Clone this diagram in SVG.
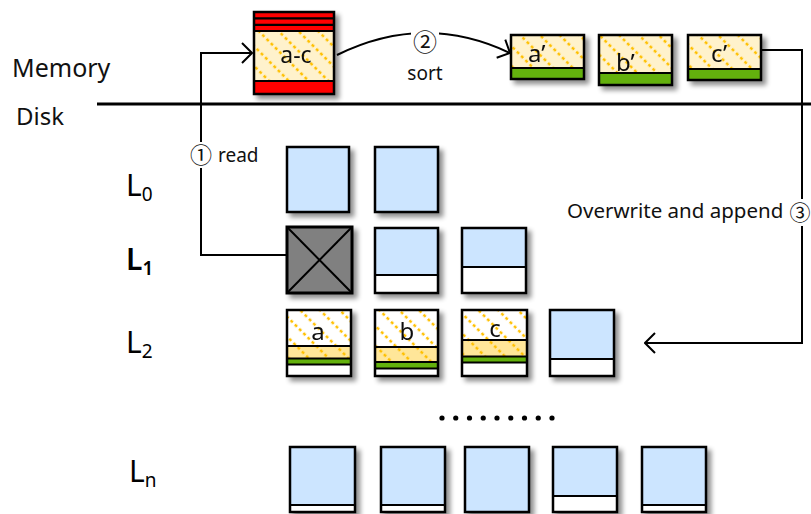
<svg xmlns="http://www.w3.org/2000/svg" width="811" height="514" viewBox="0 0 811 514">
  <defs>
    <style>
      .txt { font-family: "Noto Sans", "DejaVu Sans", sans-serif; fill: #111; }
      .num { font-family: "Noto Sans CJK JP", "DejaVu Sans", sans-serif; fill: #111; }
      .lvl { font-family: "Noto Sans", "DejaVu Sans", sans-serif; font-size: 30px; fill: #000; }
      .frame { fill: none; stroke: #000; stroke-width: 2.5; }
      .sep { stroke: #000; stroke-width: 2.2; }
      .blue { fill: #CCE5FF; }
      .white { fill: #FFFFFF; }
      .red { fill: #FF0000; }
      .green { fill: #64B10C; }
      .conn { fill: none; stroke: #000; stroke-width: 2; }
    </style>
    <filter id="shadow" x="-15%" y="-15%" width="140%" height="140%">
      <feGaussianBlur in="SourceAlpha" stdDeviation="2.5"/>
      <feOffset dx="4" dy="4" result="off"/>
      <feComponentTransfer result="soft">
        <feFuncA type="linear" slope="0.45"/>
      </feComponentTransfer>
      <feMerge>
        <feMergeNode in="soft"/>
        <feMergeNode in="SourceGraphic"/>
      </feMerge>
    </filter>
    <!-- dotted diagonal hatch on three backgrounds -->
    <pattern id="hatchCream" patternUnits="userSpaceOnUse" width="14" height="18" patternTransform="rotate(-45)">
      <rect width="14" height="18" fill="#FFF2CC"/>
      <line x1="7" y1="0" x2="7" y2="18" stroke="#FFC000" stroke-width="2.5" stroke-dasharray="3 3"/>
    </pattern>
    <pattern id="hatchWhite" patternUnits="userSpaceOnUse" width="14" height="18" patternTransform="rotate(-45)">
      <rect width="14" height="18" fill="#FFFFFF"/>
      <line x1="7" y1="0" x2="7" y2="18" stroke="#FFC000" stroke-width="2.5" stroke-dasharray="3 3"/>
    </pattern>
    <pattern id="hatchGold" patternUnits="userSpaceOnUse" width="14" height="18" patternTransform="rotate(-45)">
      <rect width="14" height="18" fill="#FFE699"/>
      <line x1="7" y1="0" x2="7" y2="18" stroke="#FFC000" stroke-width="2.5" stroke-dasharray="3 3"/>
    </pattern>
    <marker id="chev" markerUnits="userSpaceOnUse" markerWidth="12" markerHeight="24" viewBox="0 0 12 24" refX="11" refY="12" orient="auto">
      <path d="M1,2 L11,12 L1,22" fill="none" stroke="#000" stroke-width="2"/>
    </marker>
  </defs>

  <rect width="811" height="514" fill="#FFFFFF"/>

  <!-- memory / disk boundary -->
  <g id="boundary">
    <line x1="97" y1="104" x2="811" y2="104" stroke="#000" stroke-width="3"/>
    <text class="txt" x="12" y="77" font-size="25">Memory</text>
    <text class="txt" x="16" y="125" font-size="24">Disk</text>
  </g>

  <!-- level labels -->
  <g id="levels">
    <text class="lvl" x="126" y="196">L<tspan font-size="19" dy="5">0</tspan></text>
    <text class="lvl" x="126" y="270" style="font-weight:600">L<tspan font-size="19" dy="5">1</tspan></text>
    <text class="lvl" x="126" y="353">L<tspan font-size="19" dy="5">2</tspan></text>
    <text class="lvl" x="129" y="482">L<tspan font-size="19" dy="5">n</tspan></text>
  </g>

  <!-- connectors -->
  <g id="connectors">
    <path class="conn" d="M287,255 H201 V168 M201,142 V53 H252" marker-end="url(#chev)"/>
    <path class="conn" d="M337,55 Q424,12 510,53" marker-end="url(#chev)"/>
    <path class="conn" d="M757,50 H802 V199 M802,226 V343 H645" marker-end="url(#chev)"/>
  </g>

  <!-- connector labels -->
  <g id="labels">
    <text class="num" x="201" y="163" font-size="22" text-anchor="middle">①</text>
    <text class="txt" x="218" y="162" font-size="19">read</text>
    <rect x="411" y="30" width="28" height="26" fill="#FFFFFF"/>
    <text class="num" x="425" y="51" font-size="24" text-anchor="middle">②</text>
    <text class="txt" x="425" y="80" font-size="19" text-anchor="middle">sort</text>
    <text class="txt" x="567" y="218" font-size="20.5">Overwrite and append</text>
    <text class="num" x="800" y="220" font-size="21" text-anchor="middle">③</text>
  </g>

  <!-- memory blocks -->
  <g id="block-ac" filter="url(#shadow)">
    <rect class="red" x="254" y="12" width="80" height="82"/>
    <rect x="254" y="31" width="80" height="50" fill="url(#hatchCream)"/>
    <line class="sep" x1="254" y1="18.3" x2="334" y2="18.3"/>
    <line class="sep" x1="254" y1="24.8" x2="334" y2="24.8"/>
    <line class="sep" x1="254" y1="31" x2="334" y2="31"/>
    <line class="sep" x1="254" y1="81" x2="334" y2="81"/>
    <rect class="frame" x="254" y="12" width="80" height="82"/>
    <text class="txt" x="296" y="63" font-size="23" text-anchor="middle">a-c</text>
  </g>

  <g id="block-a2" filter="url(#shadow)">
    <rect x="511" y="35" width="73" height="33" fill="url(#hatchCream)"/>
    <rect class="green" x="511" y="68" width="73" height="11"/>
    <line class="sep" x1="511" y1="68" x2="584" y2="68"/>
    <rect class="frame" x="511" y="35" width="73" height="44"/>
    <text class="txt" x="528" y="62" font-size="24">a’</text>
  </g>

  <g id="block-b2" filter="url(#shadow)">
    <rect x="599" y="35" width="73" height="38" fill="url(#hatchCream)"/>
    <rect class="green" x="599" y="73" width="73" height="12"/>
    <line class="sep" x1="599" y1="73" x2="672" y2="73"/>
    <rect class="frame" x="599" y="35" width="73" height="50"/>
    <text class="txt" x="616" y="71" font-size="24">b’</text>
  </g>

  <g id="block-c2" filter="url(#shadow)">
    <rect x="688" y="35" width="73" height="34" fill="url(#hatchCream)"/>
    <rect class="green" x="688" y="69" width="73" height="11"/>
    <line class="sep" x1="688" y1="69" x2="761" y2="69"/>
    <rect class="frame" x="688" y="35" width="73" height="45"/>
    <text class="txt" x="711" y="62" font-size="24">c’</text>
  </g>

  <!-- level 0 -->
  <g id="l0-1" filter="url(#shadow)">
    <rect class="blue" x="287" y="147" width="62" height="65"/>
    <rect class="frame" x="287" y="147" width="62" height="65"/>
  </g>
  <g id="l0-2" filter="url(#shadow)">
    <rect class="blue" x="375" y="147" width="63" height="65"/>
    <rect class="frame" x="375" y="147" width="63" height="65"/>
  </g>

  <!-- level 1 -->
  <g id="l1-1" filter="url(#shadow)">
    <rect x="287" y="227" width="65" height="66" fill="#808080"/>
    <path d="M287,227 L352,293 M352,227 L287,293" stroke="#000" stroke-width="2"/>
    <rect x="287" y="227" width="65" height="66" fill="none" stroke="#000" stroke-width="3"/>
  </g>
  <g id="l1-2" filter="url(#shadow)">
    <rect class="blue" x="375" y="228" width="63" height="65"/>
    <rect class="white" x="375" y="275" width="63" height="18"/>
    <line class="sep" x1="375" y1="275" x2="438" y2="275"/>
    <rect class="frame" x="375" y="228" width="63" height="65"/>
  </g>
  <g id="l1-3" filter="url(#shadow)">
    <rect class="blue" x="462" y="228" width="64" height="65"/>
    <rect class="white" x="462" y="267" width="64" height="26"/>
    <line class="sep" x1="462" y1="267" x2="526" y2="267"/>
    <rect class="frame" x="462" y="228" width="64" height="65"/>
  </g>

  <!-- level 2 -->
  <g id="l2-a" filter="url(#shadow)">
    <rect x="287" y="310" width="64" height="36" fill="url(#hatchWhite)"/>
    <rect x="287" y="346" width="64" height="12" fill="url(#hatchGold)"/>
    <rect class="green" x="287" y="358" width="64" height="6"/>
    <rect class="white" x="287" y="364" width="64" height="12"/>
    <line class="sep" x1="287" y1="346" x2="351" y2="346"/>
    <line class="sep" x1="287" y1="358.5" x2="351" y2="358.5"/>
    <line class="sep" x1="287" y1="364.5" x2="351" y2="364.5"/>
    <rect class="frame" x="287" y="310" width="64" height="66"/>
    <text class="txt" x="318" y="340" font-size="24" text-anchor="middle">a</text>
  </g>
  <g id="l2-b" filter="url(#shadow)">
    <rect x="375" y="310" width="63" height="37" fill="url(#hatchWhite)"/>
    <rect x="375" y="347" width="63" height="15" fill="url(#hatchGold)"/>
    <rect class="green" x="375" y="362" width="63" height="6"/>
    <rect class="white" x="375" y="368" width="63" height="8"/>
    <line class="sep" x1="375" y1="347" x2="438" y2="347"/>
    <line class="sep" x1="375" y1="362" x2="438" y2="362"/>
    <line class="sep" x1="375" y1="368.5" x2="438" y2="368.5"/>
    <rect class="frame" x="375" y="310" width="63" height="66"/>
    <text class="txt" x="407" y="340" font-size="24" text-anchor="middle">b</text>
  </g>
  <g id="l2-c" filter="url(#shadow)">
    <rect x="462" y="310" width="65" height="30" fill="url(#hatchWhite)"/>
    <rect x="462" y="340" width="65" height="16" fill="url(#hatchGold)"/>
    <rect class="green" x="462" y="356" width="65" height="6"/>
    <rect class="white" x="462" y="362" width="65" height="14"/>
    <line class="sep" x1="462" y1="340" x2="527" y2="340"/>
    <line class="sep" x1="462" y1="356.5" x2="527" y2="356.5"/>
    <line class="sep" x1="462" y1="362.5" x2="527" y2="362.5"/>
    <rect class="frame" x="462" y="310" width="65" height="66"/>
    <text class="txt" x="495" y="337" font-size="24" text-anchor="middle">c</text>
  </g>
  <g id="l2-d" filter="url(#shadow)">
    <rect class="blue" x="550" y="310" width="64" height="66"/>
    <rect class="white" x="550" y="359" width="64" height="17"/>
    <line class="sep" x1="550" y1="359" x2="614" y2="359"/>
    <rect class="frame" x="550" y="310" width="64" height="66"/>
  </g>

  <!-- ellipsis between levels -->
  <g id="ellipsis" fill="#000">
    <circle cx="442" cy="418" r="2.6"/>
    <circle cx="455.75" cy="418" r="2.6"/>
    <circle cx="469.5" cy="418" r="2.6"/>
    <circle cx="483.25" cy="418" r="2.6"/>
    <circle cx="497" cy="418" r="2.6"/>
    <circle cx="510.75" cy="418" r="2.6"/>
    <circle cx="524.5" cy="418" r="2.6"/>
    <circle cx="538.25" cy="418" r="2.6"/>
    <circle cx="552" cy="418" r="2.6"/>
  </g>

  <!-- level n -->
  <g id="ln-1" filter="url(#shadow)">
    <rect class="blue" x="290" y="447" width="65" height="65"/>
    <rect class="white" x="290" y="505" width="65" height="7"/>
    <line class="sep" x1="290" y1="505" x2="355" y2="505"/>
    <rect class="frame" x="290" y="447" width="65" height="65"/>
  </g>
  <g id="ln-2" filter="url(#shadow)">
    <rect class="blue" x="381" y="447" width="64" height="65"/>
    <rect class="white" x="381" y="505" width="64" height="7"/>
    <line class="sep" x1="381" y1="505" x2="445" y2="505"/>
    <rect class="frame" x="381" y="447" width="64" height="65"/>
  </g>
  <g id="ln-3" filter="url(#shadow)">
    <rect class="blue" x="465" y="447" width="64" height="65"/>
    <rect class="frame" x="465" y="447" width="64" height="65"/>
  </g>
  <g id="ln-4" filter="url(#shadow)">
    <rect class="blue" x="553" y="447" width="64" height="65"/>
    <rect class="white" x="553" y="496" width="64" height="16"/>
    <line class="sep" x1="553" y1="496" x2="617" y2="496"/>
    <rect class="frame" x="553" y="447" width="64" height="65"/>
  </g>
  <g id="ln-5" filter="url(#shadow)">
    <rect class="blue" x="642" y="447" width="64" height="65"/>
    <rect class="white" x="642" y="505" width="64" height="7"/>
    <line class="sep" x1="642" y1="505" x2="706" y2="505"/>
    <rect class="frame" x="642" y="447" width="64" height="65"/>
  </g>
</svg>
